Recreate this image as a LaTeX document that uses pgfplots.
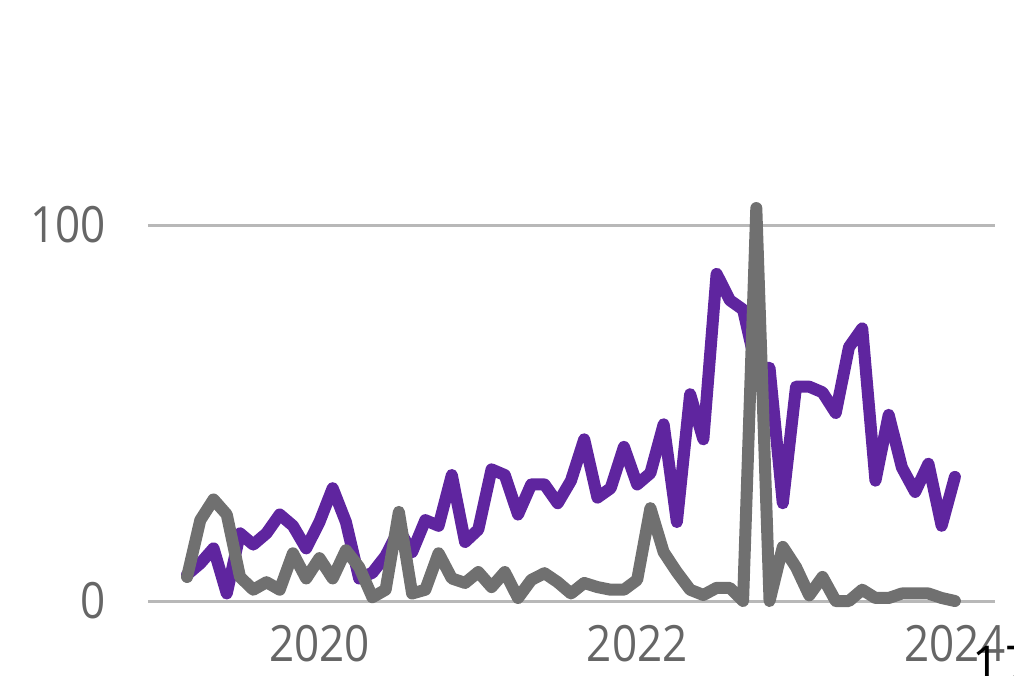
\documentclass[border=0pt]{standalone}
\usepackage{pgfplots}
\pgfplotsset{compat=1.18}
\usepackage{fontspec}
\setmainfont[FakeStretch=0.88]{Open Sans}
\newfontfamily\plainfont{Open Sans}
\definecolor{cpurple}{HTML}{5F259F}
\definecolor{cgray}{HTML}{707070}
\definecolor{cgrid}{HTML}{B8B8B8}
\definecolor{clabel}{HTML}{666666}
\begin{document}
\begin{tikzpicture}
\begin{axis}[
  at={(0,0)}, anchor=south west,
  scale only axis,
  width=423.5pt, height=206.8pt,
  xmin=-12.95, xmax=51.03,
  ymin=0, ymax=110,
  clip=false,
  axis line style={draw=none},
  tick style={draw=none},
  xtick={0,24,48}, xticklabels={2020,2022,2024},
  ytick={0,100}, yticklabels={0,100},
  ymajorgrids,
  grid style={cgrid, line width=1.5pt},
  /pgf/number format/assume math mode=true,
  ticklabel style={font=\fontsize{25}{29}\selectfont, text=clabel},
  xticklabel style={anchor=north, inner sep=0pt, yshift=-12pt},
  yticklabel style={anchor=east, inner sep=0pt, xshift=-21pt},
]
\addplot[cpurple, line width=6pt, line join=round, line cap=round, mark=none] coordinates {
(-10,7) (-9,10) (-8,14) (-7,2) (-6,18) (-5,15) (-4,18) (-3,23) (-2,20) (-1,14)
(0,21) (1,30) (2,21) (3,6) (4,7.5) (5,12) (6,19) (7,13) (8,21.5) (9,20) (10,33.5) (11,15.7)
(12,19) (13,35) (14,33.5) (15,23) (16,31) (17,31) (18,26) (19,32) (20,43) (21,27.5) (22,30) (23,41)
(24,31) (25,34) (26,47) (27,21) (28,55) (29,43) (30,87) (31,80) (32,77.5) (33,62) (34,62) (35,26)
(36,57) (37,57) (38,55.5) (39,50) (40,67.5) (41,72.5) (42,32) (43,49.5) (44,35.5) (45,29) (46,36.5) (47,20)
(48,33)
};
\addplot[cgray, line width=6pt, line join=round, line cap=round, mark=none] coordinates {
(-10,6.4) (-9,21.5) (-8,27) (-7,23) (-6,6.4) (-5,3) (-4,5) (-3,3) (-2,12.7) (-1,6)
(0,11.4) (1,6) (2,13.5) (3,9) (4,1) (5,3) (6,23.7) (7,2) (8,3) (9,12.7) (10,6) (11,4.8)
(12,7.7) (13,3.7) (14,7.7) (15,0.8) (16,5.6) (17,7.4) (18,5) (19,2) (20,4.8) (21,3.7) (22,3) (23,3)
(24,5.6) (25,24.7) (26,13) (27,7.7) (28,3) (29,1.6) (30,3.5) (31,3.5) (32,0) (33,104.5) (34,0) (35,14.4)
(36,9) (37,1.5) (38,6.4) (39,0) (40,0) (41,3) (42,0.8) (43,0.8) (44,2) (45,2) (46,2) (47,0.8)
(48,0)
};
\end{axis}
\node[anchor=north west, inner sep=0pt, text=black, font=\plainfont\fontsize{24}{28}\selectfont] at (412pt,-22.5pt) {1\hspace{3pt}7};
\pgfresetboundingbox
\path[use as bounding box] (-74pt,-37.5pt) rectangle (433pt,300.5pt);
\end{tikzpicture}
\end{document}
